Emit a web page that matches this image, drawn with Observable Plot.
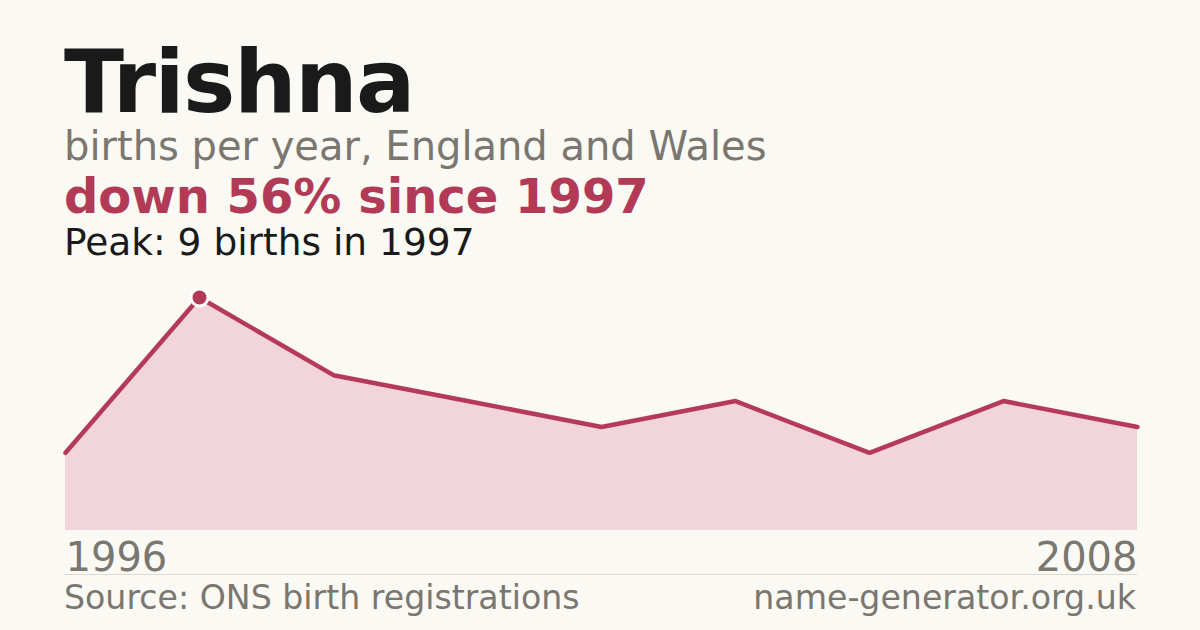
<!DOCTYPE html>
<html>
<head>
<meta charset="utf-8">
<script src="https://cdn.jsdelivr.net/npm/d3@7"></script>
<script src="https://cdn.jsdelivr.net/npm/@observablehq/plot@0.6"></script>
<style>
  html, body { margin: 0; padding: 0; background: #faf9f4; }
  body { width: 1200px; height: 630px; position: relative; overflow: hidden; font-family: "DejaVu Sans", sans-serif; }
  .t { position: absolute; left: 64px; white-space: nowrap; line-height: 0.9; }
  #title { top: 42.4px; font-size: 88px; font-weight: bold; color: #1a1a1a; letter-spacing: -1.6px; }
  #sub { top: 128px; font-size: 40px; color: #7a7670; }
  #delta { top: 175.4px; font-size: 48px; font-weight: bold; color: #b23a56; }
  #peak { top: 225.9px; font-size: 37.5px; color: #1a1a1a; }
  #chart { position: absolute; left: 0; top: 270px; }
  #rule { position: absolute; left: 64px; width: 1073px; top: 574px; height: 1px; background: #dddad3; }
  #src { position: absolute; left: 64px; top: 581px; font-size: 33.2px; color: #7a7670; line-height: 1; white-space: nowrap; }
  #site { position: absolute; right: 64px; top: 581px; font-size: 33.2px; color: #7a7670; line-height: 1; white-space: nowrap; }
</style>
</head>
<body>
<div class="t" id="title">Trishna</div>
<div class="t" id="sub">births per year, England and Wales</div>
<div class="t" id="delta">down 56% since 1997</div>
<div class="t" id="peak">Peak: 9 births in 1997</div>
<div id="chart"></div>
<div id="rule"></div>
<div id="src">Source: ONS birth registrations</div>
<div id="site">name-generator.org.uk</div>
<script>
const years = ["1996", "1997", "1998", "1999", "2001", "2002", "2004", "2006", "2008"];
const births = [3, 9, 6, 5, 4, 5, 3, 5, 4];
const peakYear = "1997";
const peakBirths = 9;
const endLabels = ["1996", "2008"];

const data = years.map((y, i) => ({year: y, births: births[i]}));

const chart = Plot.plot({
  width: 1200,
  height: 310,
  marginLeft: 64,
  marginRight: 63,
  marginTop: 27,
  marginBottom: 50,
  style: {background: "transparent", fontFamily: "DejaVu Sans, sans-serif"},
  x: {type: "point", domain: years, padding: 0, axis: null},
  y: {domain: [0, peakBirths], axis: null},
  marks: [
    Plot.areaY(data, {x: "year", y: "births", fill: "#f2d5da"}),
    Plot.lineY(data, {x: "year", y: "births", stroke: "#b5395a", strokeWidth: 4.5, strokeLinejoin: "miter"}),
    Plot.dot([{year: peakYear, births: peakBirths}], {x: "year", y: "births", r: 8.5, fill: "#b23a56", stroke: "white", strokeWidth: 3}),
    Plot.text([endLabels[0]], {x: d => d, y: () => 0, text: d => d, textAnchor: "start", lineAnchor: "bottom", dy: 40, fontSize: 40, fill: "#7a7670"}),
    Plot.text([endLabels[1]], {x: () => years[years.length - 1], y: () => 0, text: d => d, textAnchor: "end", lineAnchor: "bottom", dy: 40, fontSize: 40, fill: "#7a7670"})
  ]
});
document.getElementById("chart").appendChild(chart);
</script>
</body>
</html>
